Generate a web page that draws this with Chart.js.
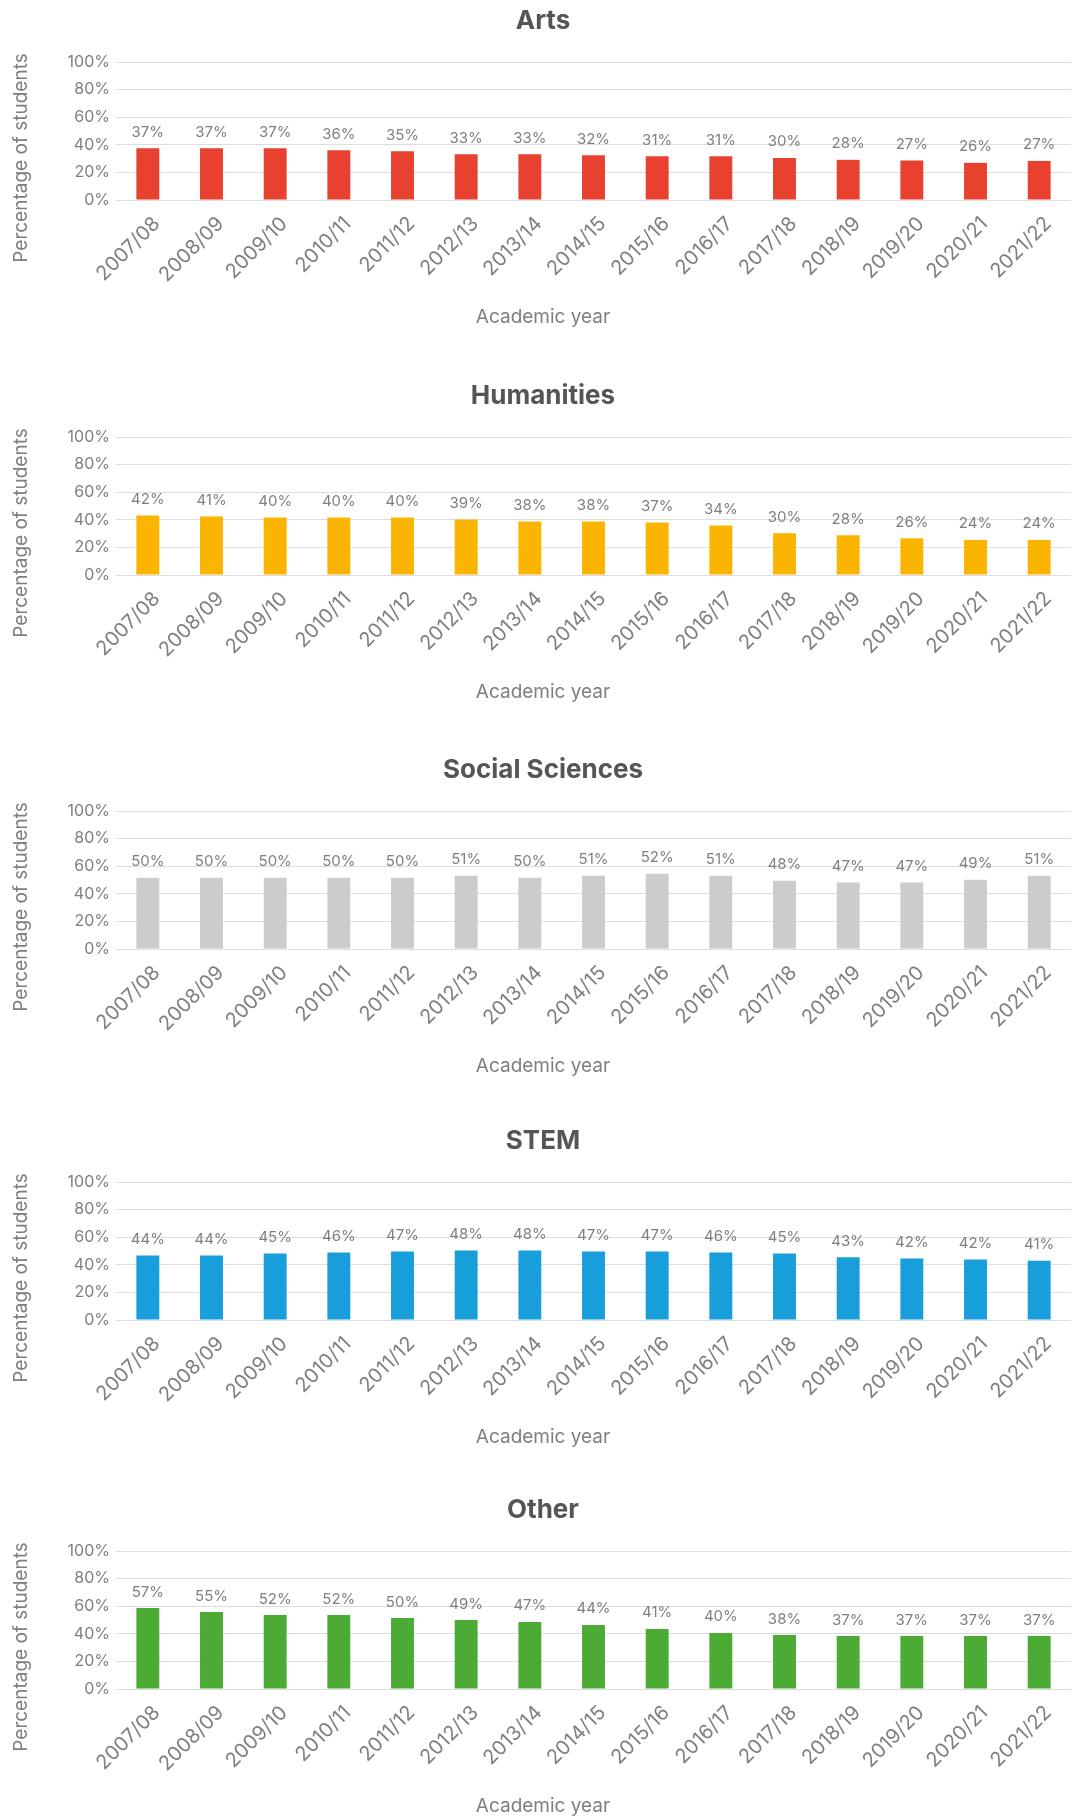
<!DOCTYPE html>
<html lang="en">
<head>
    <meta charset="UTF-8">
    <title>Percentage of students by subject area</title>
    <script src="https://cdn.jsdelivr.net/npm/chart.js"></script>
    <style>
        body { margin: 0; background: #fff; }
        .chart-box { position: absolute; left: 0; width: 1077px; height: 372px; }
    </style>
</head>
<body>
    <div class="chart-box" style="top:0px"><canvas id="artsChart" width="1077" height="372"></canvas></div>
    <div class="chart-box" style="top:375px"><canvas id="humChart" width="1077" height="372"></canvas></div>
    <div class="chart-box" style="top:749px"><canvas id="socChart" width="1077" height="372"></canvas></div>
    <div class="chart-box" style="top:1120px"><canvas id="stemChart" width="1077" height="372"></canvas></div>
    <div class="chart-box" style="top:1489px"><canvas id="otherChart" width="1077" height="372"></canvas></div>

    <script>
        const years = ['2007/08', '2008/09', '2009/10', '2010/11', '2011/12', '2012/13', '2013/14', '2014/15',
                       '2015/16', '2016/17', '2017/18', '2018/19', '2019/20', '2020/21', '2021/22'];
        const yTicks = [0, 20, 40, 60, 80, 100];

        const artsValues = [37.5, 37.5, 37.5, 36.1, 35.4, 33.2, 33.2, 32.4, 31.7, 31.7, 30.5, 29.1, 28.6, 26.9, 28.3];
        const artsLabels = [37, 37, 37, 36, 35, 33, 33, 32, 31, 31, 30, 28, 27, 26, 27];

        const humValues = [43.1, 42.4, 41.6, 41.6, 41.6, 40.2, 38.7, 38.7, 38.0, 35.8, 30.3, 28.8, 26.6, 25.4, 25.4];
        const humLabels = [42, 41, 40, 40, 40, 39, 38, 38, 37, 34, 30, 28, 26, 24, 24];

        const socValues = [51.7, 51.7, 51.7, 51.7, 51.7, 53.1, 51.7, 53.1, 54.6, 53.1, 49.5, 48.1, 48.1, 50.2, 53.1];
        const socLabels = [50, 50, 50, 50, 50, 51, 50, 51, 52, 51, 48, 47, 47, 49, 51];

        const stemValues = [46.7, 46.7, 48.2, 48.9, 49.6, 50.4, 50.4, 49.6, 49.6, 48.9, 48.2, 45.5, 44.6, 43.8, 42.9];
        const stemLabels = [44, 44, 45, 46, 47, 48, 48, 47, 47, 46, 45, 43, 42, 42, 41];

        const otherValues = [58.7, 55.8, 53.6, 53.6, 51.4, 50.0, 48.6, 46.4, 43.5, 40.6, 39.1, 38.4, 38.4, 38.4, 38.4];
        const otherLabels = [57, 55, 52, 52, 50, 49, 47, 44, 41, 40, 38, 37, 37, 37, 37];

        const textGrey = '#7f7f7f';
        const fontFamily = 'Inter, "Noto Sans", sans-serif';

        // percentage text above each bar
        const barLabels = {
            id: 'barLabels',
            afterDatasetsDraw(chart, args, opts) {
                const ctx = chart.ctx;
                const meta = chart.getDatasetMeta(0);
                ctx.save();
                ctx.font = '15px ' + fontFamily;
                ctx.fillStyle = textGrey;
                ctx.textAlign = 'center';
                ctx.textBaseline = 'middle';
                meta.data.forEach((bar, i) => {
                    ctx.fillText(opts.texts[i] + '%', bar.x, bar.y - 16);
                });
                ctx.restore();
            }
        };

        // chart title and axis titles, centred on the whole canvas like the original
        const chartTexts = {
            id: 'chartTexts',
            afterDraw(chart, args, opts) {
                const ctx = chart.ctx;
                ctx.save();
                ctx.textAlign = 'center';
                ctx.textBaseline = 'middle';

                ctx.font = 'bold 26px ' + fontFamily;
                ctx.fillStyle = '#555555';
                ctx.fillText(opts.title, 543, 21);

                ctx.font = '19px ' + fontFamily;
                ctx.fillStyle = textGrey;
                ctx.fillText('Academic year', 543, 317);

                ctx.translate(21, 158);
                ctx.rotate(-Math.PI / 2);
                ctx.fillText('Percentage of students', 0, 0);
                ctx.restore();
            }
        };

        function makeChart(id, title, values, labels, color) {
            const ctx = document.getElementById(id).getContext('2d');
            return new Chart(ctx, {
                type: 'bar',
                data: {
                    labels: years,
                    datasets: [{
                        data: values,
                        backgroundColor: color,
                        categoryPercentage: 1,
                        barPercentage: 0.36
                    }]
                },
                plugins: [barLabels, chartTexts],
                options: {
                    responsive: false,
                    animation: false,
                    devicePixelRatio: 1,
                    layout: { padding: { left: 0, right: 6, top: 62, bottom: 0 } },
                    plugins: {
                        legend: { display: false },
                        tooltip: { enabled: false },
                        title: { display: false },
                        barLabels: { texts: labels },
                        chartTexts: { title: title }
                    },
                    scales: {
                        x: {
                            grid: { display: false },
                            border: { display: false },
                            afterFit: axis => { axis.height = 172; },
                            ticks: {
                                minRotation: 45,
                                maxRotation: 45,
                                labelOffset: 9,
                                color: textGrey,
                                padding: 4,
                                font: { family: fontFamily, size: 20 }
                            }
                        },
                        y: {
                            min: 0,
                            max: 100,
                            afterBuildTicks: axis => { axis.ticks = yTicks.map(v => ({ value: v })); },
                            afterFit: axis => { axis.width = 116; },
                            grid: { color: '#dddddd', drawTicks: false },
                            border: { display: false },
                            ticks: {
                                color: textGrey,
                                padding: 6,
                                font: { family: fontFamily, size: 16 },
                                callback: v => v + '%'
                            }
                        }
                    }
                }
            });
        }

        makeChart('artsChart', 'Arts', artsValues, artsLabels, '#e8412f');
        makeChart('humChart', 'Humanities', humValues, humLabels, '#fbb400');
        makeChart('socChart', 'Social Sciences', socValues, socLabels, '#cccccc');
        makeChart('stemChart', 'STEM', stemValues, stemLabels, '#189fdb');
        makeChart('otherChart', 'Other', otherValues, otherLabels, '#4bab35');
    </script>
</body>
</html>
